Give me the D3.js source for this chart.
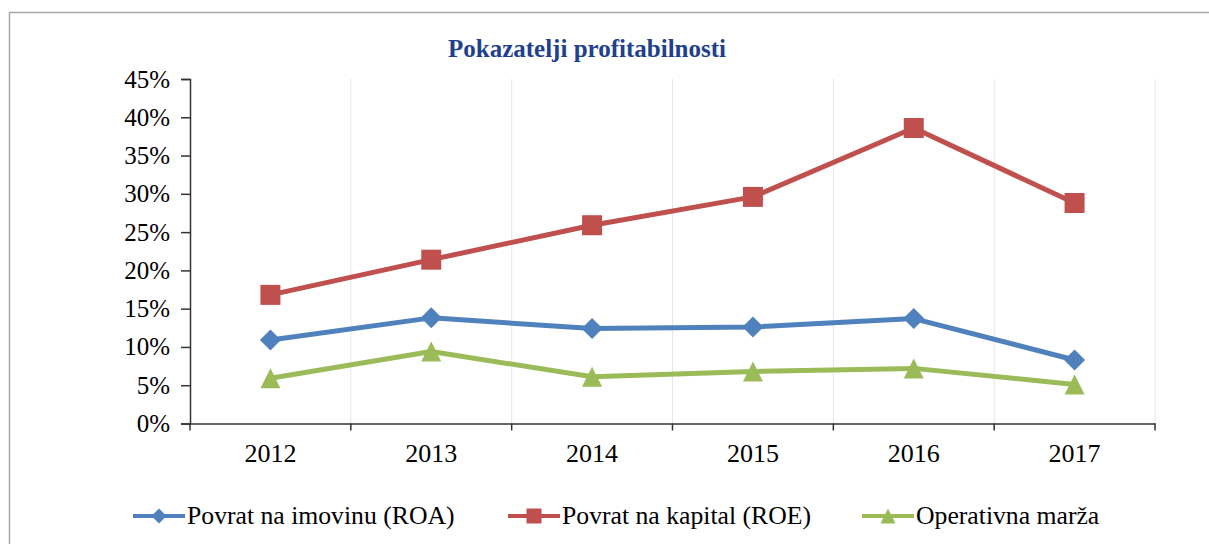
<!DOCTYPE html>
<html lang="hr">
<head>
    <meta charset="UTF-8">
    <title>Pokazatelji profitabilnosti</title>
    <script src="https://d3js.org/d3.v7.min.js"></script>
    <style>
        body { margin: 0; background: #fff; }
        svg { display: block; }
    </style>
</head>
<body>
    <div id="chart"></div>
    <script>
        // Data
        const years = ['2012', '2013', '2014', '2015', '2016', '2017'];
        const roa = [10.9, 13.8, 12.4, 12.6, 13.7, 8.3];
        const roe = [16.8, 21.4, 25.9, 29.6, 38.6, 28.8];
        const margin = [5.9, 9.4, 6.1, 6.8, 7.2, 5.1];
        const yTicks = [0, 5, 10, 15, 20, 25, 30, 35, 40, 45];
        const seriesNames = ['Povrat na imovinu (ROA)', 'Povrat na kapital (ROE)', 'Operativna marža'];

        const series = [
            { name: seriesNames[0], values: roa, color: '#4F81BD', marker: 'diamond' },
            { name: seriesNames[1], values: roe, color: '#C0504D', marker: 'square' },
            { name: seriesNames[2], values: margin, color: '#9BBB59', marker: 'triangle' }
        ];

        const FONT = "'Liberation Serif', 'Times New Roman', serif";
        const width = 1209, height = 544;
        const plot = { left: 190, right: 1155, top: 79, bottom: 423.5 };

        const svg = d3.select('#chart').append('svg')
            .attr('width', width)
            .attr('height', height)
            .style('font-family', FONT);

        // outer frame
        svg.append('rect')
            .attr('x', 9.5).attr('y', 12.5)
            .attr('width', width + 20).attr('height', height + 20)
            .attr('fill', 'none')
            .attr('stroke', '#a6a6a6')
            .attr('stroke-width', 1.5);

        const x = d3.scaleBand().domain(years).range([plot.left, plot.right]).padding(0);
        const y = d3.scaleLinear().domain([0, 45]).range([plot.bottom, plot.top]);

        // vertical gridlines at category borders
        const borders = years.map(d => x(d)).concat([plot.right]).slice(1);
        svg.append('g').selectAll('line').data(borders).join('line')
            .attr('x1', d => d).attr('x2', d => d)
            .attr('y1', plot.top).attr('y2', plot.bottom)
            .attr('stroke', '#e6e6e6')
            .attr('stroke-width', 1);

        // y axis
        const yAxis = svg.append('g')
            .attr('transform', `translate(${plot.left},0)`)
            .call(d3.axisLeft(y).tickValues(yTicks).tickFormat(d => d + '%').tickSize(9).tickPadding(11));
        yAxis.attr('font-family', null).attr('font-size', null);
        yAxis.select('.domain').attr('stroke', '#333').attr('stroke-width', 1.5);
        yAxis.selectAll('.tick line').attr('stroke', '#333').attr('stroke-width', 1.5);
        yAxis.selectAll('.tick text')
            .style('font-family', FONT)
            .style('font-size', '25px')
            .attr('fill', '#000');

        // x axis
        const xAxis = svg.append('g')
            .attr('transform', `translate(0,${plot.bottom})`)
            .call(d3.axisBottom(x).tickSize(0).tickPadding(20));
        xAxis.attr('font-family', null).attr('font-size', null);
        xAxis.select('.domain').attr('stroke', '#333').attr('stroke-width', 1.5);
        xAxis.selectAll('.tick text')
            .style('font-family', FONT)
            .style('font-size', '26px')
            .attr('fill', '#000');
        // tick marks between categories
        xAxis.append('g').selectAll('line').data([plot.left].concat(borders)).join('line')
            .attr('x1', d => d).attr('x2', d => d)
            .attr('y1', 0).attr('y2', 7)
            .attr('stroke', '#333').attr('stroke-width', 1.5);

        // title
        svg.append('text')
            .attr('x', 587).attr('y', 57)
            .attr('text-anchor', 'middle')
            .style('font-family', FONT)
            .style('font-size', '25px')
            .style('font-weight', 'bold')
            .style('fill', '#1F3F8F')
            .text('Pokazatelji profitabilnosti');

        function markerPath(type, s) {
            const h = s / 2;
            if (type === 'diamond') return `M0,${-h}L${h},0L0,${h}L${-h},0Z`;
            if (type === 'square') return `M${-h},${-h}H${h}V${h}H${-h}Z`;
            return `M0,${-h}L${h},${h}L${-h},${h}Z`;
        }

        const line = d3.line()
            .x((d, i) => x(years[i]) + x.bandwidth() / 2)
            .y(d => y(d));

        series.forEach(s => {
            const g = svg.append('g');
            g.append('path')
                .datum(s.values)
                .attr('d', line)
                .attr('fill', 'none')
                .attr('stroke', s.color)
                .attr('stroke-width', 5)
                .attr('stroke-linejoin', 'round');
            g.selectAll('path.m').data(s.values).join('path')
                .attr('class', 'm')
                .attr('transform', (d, i) => `translate(${x(years[i]) + x.bandwidth() / 2},${y(d)})`)
                .attr('d', markerPath(s.marker, s.marker === 'diamond' ? 21 : 20))
                .attr('fill', s.color);
        });

        // legend
        const legendX = [133, 508, 862];
        const legend = svg.append('g').attr('transform', 'translate(0,516)');
        series.forEach((s, i) => {
            const g = legend.append('g').attr('transform', `translate(${legendX[i]},0)`);
            g.append('line')
                .attr('x1', 0).attr('x2', 52)
                .attr('stroke', s.color).attr('stroke-width', 4);
            g.append('path')
                .attr('transform', 'translate(26,0)')
                .attr('d', markerPath(s.marker, 15))
                .attr('fill', s.color);
            g.append('text')
                .attr('x', 54).attr('y', 0)
                .attr('dy', '0.33em')
                .style('font-family', FONT)
                .style('font-size', '25.7px')
                .attr('fill', '#000')
                .text(s.name);
        });
    </script>
</body>
</html>
